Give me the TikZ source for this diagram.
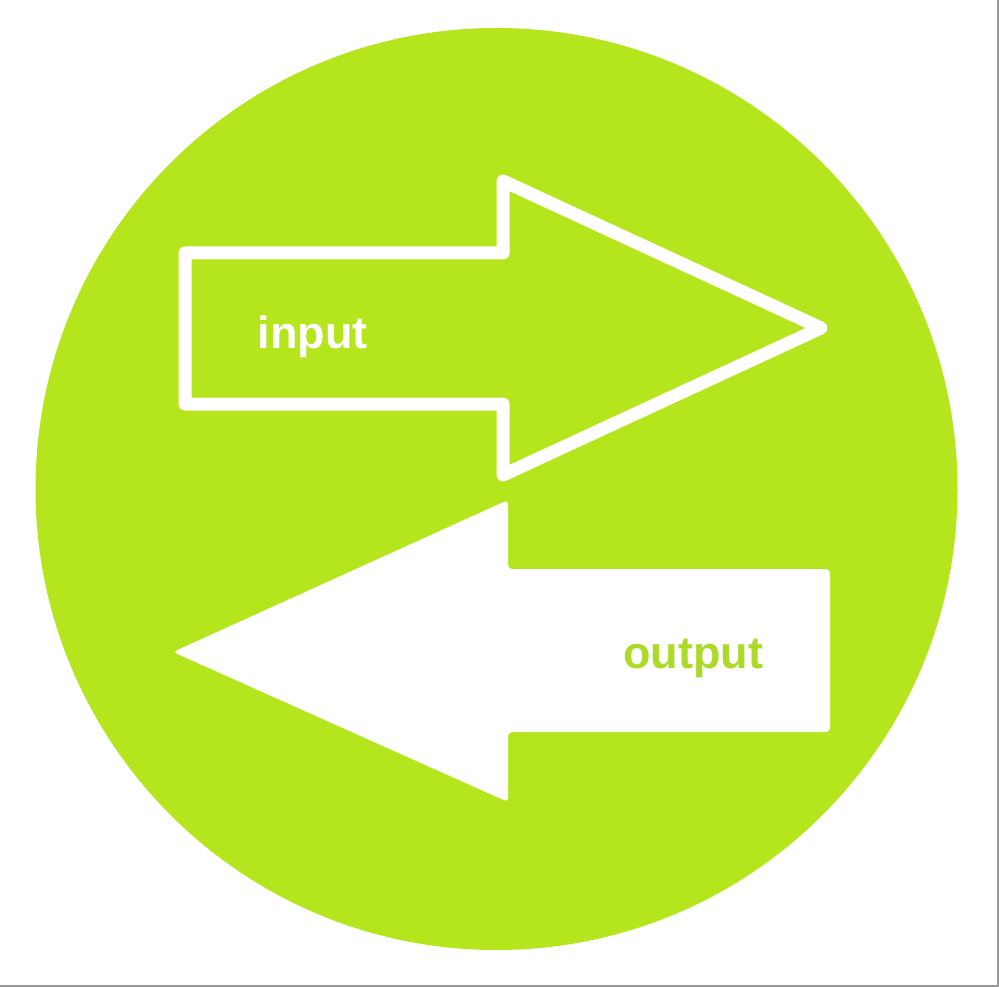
\documentclass[tikz,border=0pt]{standalone}
\usepackage{fontspec}
\setmainfont{Liberation Sans}
\definecolor{lime}{RGB}{181,230,29}
\definecolor{limetext}{RGB}{172,218,40}
\tikzset{
  outlinearrow/.style={draw=white, line width=13pt, line join=round},
  solidarrow/.style={fill=white, rounded corners=4pt},
  label/.style={font=\bfseries\fontsize{45}{45}\selectfont, anchor=base, inner sep=0pt}
}
\begin{document}
\begin{tikzpicture}[x=1pt,y=-1pt]
\useasboundingbox (0,0) rectangle (999,987);
\fill[white] (0,0) rectangle (999,987);
\draw[gray!80, line width=1.5pt] (0,986) -- (998,986) -- (998,0);
\fill[lime] (496.5,489) circle[radius=461];
% input arrow (outline)
\draw[outlinearrow] (185,253) -- (503,253) -- (503,181) -- (821,328) -- (503,475) -- (503,404) -- (185,404) -- cycle;
% output arrow (filled)
\fill[solidarrow] (830,569) -- (830,732) -- (508,732) -- (508,802) -- (173,652) -- (508,500) -- (508,569) -- cycle;
\node[label, text=white] (in) at (312.5,348) {input};
\node[label, text=limetext] (out) at (693,668) {output};
\end{tikzpicture}
\end{document}
